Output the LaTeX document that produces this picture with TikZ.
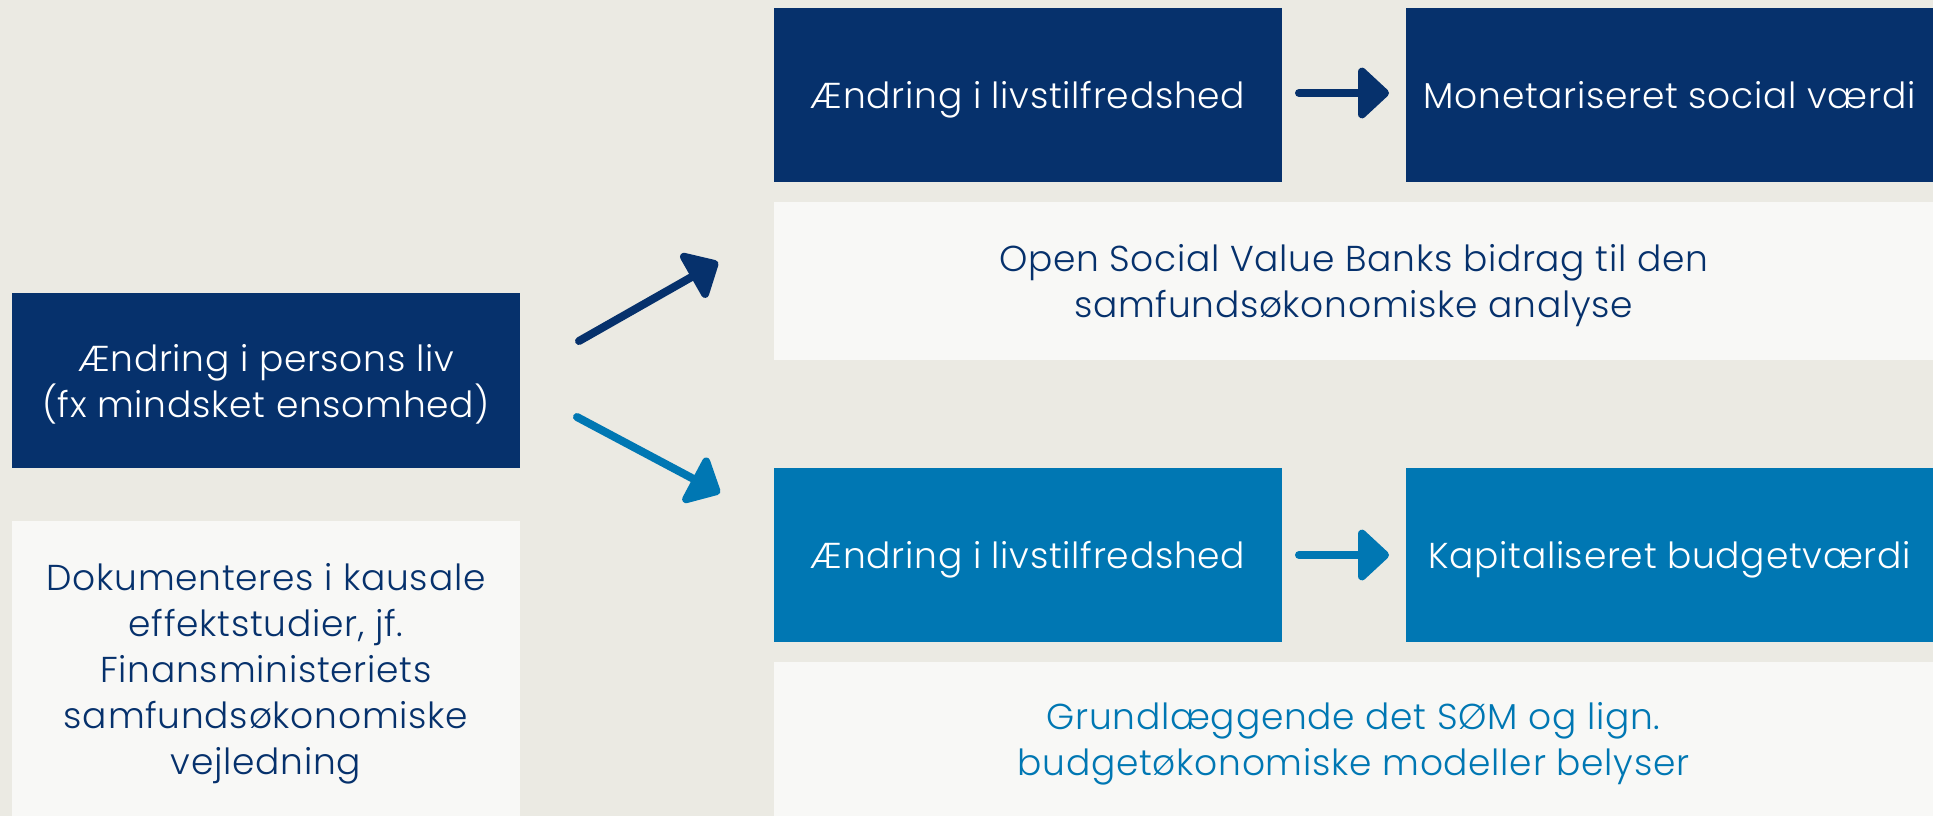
\documentclass[tikz,border=0pt]{standalone}
\usepackage{fontspec}
\setmainfont{Poppins Light}[LetterSpace=2]
\usetikzlibrary{arrows.meta}
\definecolor{bg}{RGB}{235,234,227}
\definecolor{navy}{RGB}{6,49,108}
\definecolor{blu}{RGB}{0,119,179}
\definecolor{paper}{RGB}{248,248,246}
\tikzset{
  box/.style={inner sep=0pt, align=center, text depth=0pt, font=\fontsize{18}{23}\selectfont},
  darkbox/.style={box, fill=navy, text=white},
  bluebox/.style={box, fill=blu, text=white},
  paperbox/.style={box, fill=paper},
  conn/.style={line width=4pt, line cap=round, -{Triangle[length=16.5pt,width=29.5pt,round]}},
}
\begin{document}
\begin{tikzpicture}[x=0.5pt,y=-0.5pt]
\fill[bg] (0,0) rectangle (1933,816);
\useasboundingbox (0,0) rectangle (1933,816);
% left column
\node[darkbox, minimum width=254pt, minimum height=87.5pt] (A) at (266,380.5)
  {Ændring i persons liv\\(fx mindsket ensomhed)};
\node[paperbox, text=navy, minimum width=254pt, minimum height=147.5pt] (B) at (266,668.5)
  {Dokumenteres i kausale\\effektstudier, jf.\\Finansministeriets\\samfundsøkonomiske\\vejledning};
% top row
\node[darkbox, minimum width=254pt, minimum height=87pt] (C) at (1028,95)
  {Ændring i livstilfredshed};
\node[darkbox, minimum width=263.5pt, minimum height=87pt] (D) at (1669.5,95)
  {Monetariseret social værdi};
\node[paperbox, text=navy, minimum width=579.5pt, minimum height=79pt] (E) at (1353.5,281)
  {Open Social Value Banks bidrag til den\\samfundsøkonomiske analyse};
% bottom row
\node[bluebox, minimum width=254pt, minimum height=87pt] (F) at (1028,555)
  {Ændring i livstilfredshed};
\node[bluebox, minimum width=263.5pt, minimum height=87pt] (G) at (1669.5,555)
  {Kapitaliseret budgetværdi};
\node[paperbox, text=blu, minimum width=579.5pt, minimum height=77pt] (H) at (1353.5,739)
  {Grundlæggende det SØM og lign.\\budgetøkonomiske modeller belyser};
% connectors
\coordinate (u1) at (579,341);
\coordinate (u2) at (718,262);
\coordinate (l1) at (577,417);
\coordinate (l2) at (720,493);
\coordinate (t1) at (1299,93);
\coordinate (t2) at (1389,93);
\coordinate (b1) at (1299,555);
\coordinate (b2) at (1389,555);
\draw[conn, navy] (u1) -- (u2);
\draw[conn, blu] (l1) -- (l2);
\draw[conn, navy] (t1) -- (t2);
\draw[conn, blu] (b1) -- (b2);
\end{tikzpicture}
\end{document}
